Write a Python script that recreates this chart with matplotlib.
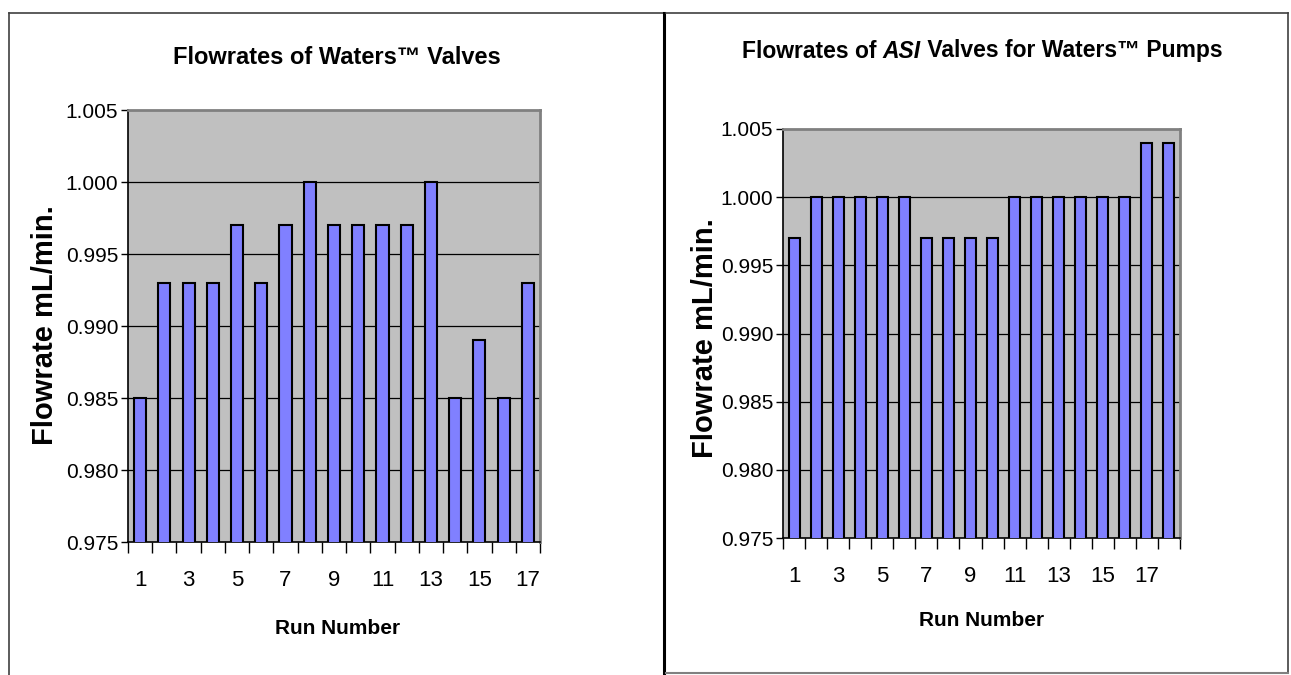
import matplotlib
matplotlib.use("Agg")
import matplotlib.pyplot as plt
from matplotlib.offsetbox import TextArea, HPacker, AnnotationBbox
from matplotlib.lines import Line2D
import numpy as np

# ---- data ----
left_runs = list(range(1, 18))
left_flow = [0.985, 0.993, 0.993, 0.993, 0.997, 0.993, 0.997, 1.000, 0.997,
             0.997, 0.997, 0.997, 1.000, 0.985, 0.989, 0.985, 0.993]
right_runs = list(range(1, 19))
right_flow = [0.997, 1.000, 1.000, 1.000, 1.000, 1.000, 0.997, 0.997, 0.997,
              0.997, 1.000, 1.000, 1.000, 1.000, 1.000, 1.000, 1.004, 1.004]
y_ticks = [0.975, 0.980, 0.985, 0.990, 0.995, 1.000, 1.005]
x_label = "Run Number"
y_label = "Flowrate mL/min."

FONT = ["Liberation Sans", "DejaVu Sans"]
plt.rcParams["font.family"] = FONT

W, H = 1291, 675
fig = plt.figure(figsize=(W / 100, H / 100), dpi=100)


def fx(px):
    return px / W


def fy(py):
    return 1 - py / H


# panel borders
fig.add_artist(Line2D([fx(9), fx(9)], [fy(13), fy(675)], color="#404040", lw=1.2))
fig.add_artist(Line2D([fx(9), fx(663)], [fy(13), fy(13)], color="#404040", lw=1.2))
fig.add_artist(Line2D([fx(664), fx(664)], [fy(13), fy(675)], color="black", lw=2.2))
fig.add_artist(Line2D([fx(666), fx(1288)], [fy(13), fy(13)], color="#404040", lw=1.2))
fig.add_artist(Line2D([fx(1287.5), fx(1287.5)], [fy(13), fy(673)], color="#404040", lw=1.2))
fig.add_artist(Line2D([fx(666), fx(1288)], [fy(673), fy(673)], color="#808080", lw=1.5))


def draw(ax, runs, flow):
    x = np.arange(len(runs))
    ax.set_facecolor("#C0C0C0")
    ax.bar(x, flow, width=0.5, color="#8080FF", edgecolor="black", linewidth=1.5,
           zorder=3)
    ax.set_ylim(0.975, 1.005)
    ax.set_xlim(-0.5, len(runs) - 0.5)
    ax.set_yticks(y_ticks)
    ax.set_yticklabels([f"{v:.3f}" for v in y_ticks], fontsize=15)
    for v in y_ticks[1:-1]:
        ax.axhline(v, color="black", lw=0.9, zorder=1)
    # category boundary ticks
    ax.set_xticks(np.arange(len(runs) + 1) - 0.5)
    ax.set_xticklabels([])
    ax.tick_params(axis="x", length=8, width=1, color="black", direction="out")
    ax.tick_params(axis="y", length=5, width=1, color="black", direction="out", pad=2)
    for i, r in enumerate(runs):
        if r % 2 == 1:
            ax.annotate(str(r), (i, 0), xycoords=("data", "axes fraction"),
                        xytext=(0, -20), textcoords="offset points",
                        ha="center", va="top", fontsize=16)
    for s in ("top", "right"):
        ax.spines[s].set_color("#808080")
        ax.spines[s].set_linewidth(2)
    for s in ("left", "bottom"):
        ax.spines[s].set_color("black")
        ax.spines[s].set_linewidth(1.2)


axL = fig.add_axes([fx(128), fy(542), fx(540) - fx(128), fy(110) - fy(542)])
draw(axL, left_runs, left_flow)
axR = fig.add_axes([fx(783), fy(538), fx(1180) - fx(783), fy(129) - fy(538)])
draw(axR, right_runs, right_flow)

# axis labels
fig.text(fx(338), fy(629), x_label, ha="center", va="center", fontsize=15,
         fontweight="bold")
fig.text(fx(982), fy(620), x_label, ha="center", va="center", fontsize=15,
         fontweight="bold")
fig.text(fx(45), fy(325), y_label, ha="center", va="center", fontsize=21,
         fontweight="bold", rotation=90)
fig.text(fx(705), fy(338), y_label, ha="center", va="center", fontsize=21,
         fontweight="bold", rotation=90)


def title(parts, cx, cy, size):
    areas = []
    for txt, style in parts:
        areas.append(TextArea(txt, textprops=dict(fontsize=size, fontweight="bold",
                                                  fontstyle=style, family=FONT)))
    box = HPacker(children=areas, align="baseline", pad=0, sep=0)
    ab = AnnotationBbox(box, (fx(cx), fy(cy)), xycoords="figure fraction",
                        frameon=False, box_alignment=(0.5, 0.5))
    fig.add_artist(ab)


title([("Flowrates of Waters™ Valves", "normal")], 337, 58, 17)
title([("Flowrates of ", "normal"), ("ASI", "italic"),
       (" Valves for Waters™ Pumps", "normal")], 982, 51, 16.5)

fig.savefig("out.png", dpi=100)
